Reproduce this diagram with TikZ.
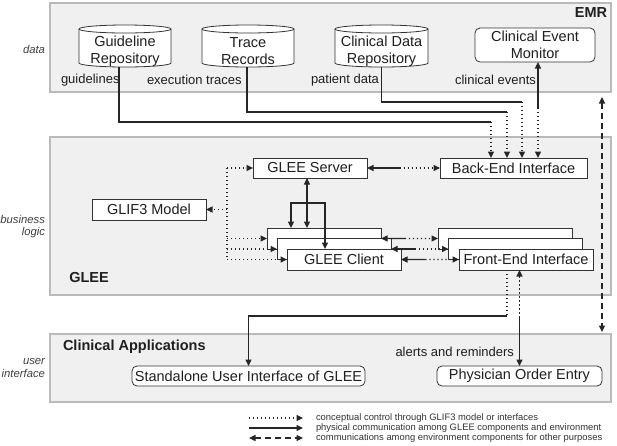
\documentclass[tikz,border=0pt]{standalone}
\usepackage{fontspec}
\setmainfont{Liberation Sans}
\usetikzlibrary{arrows.meta,calc}
\pgfdeclarelayer{bg}\pgfdeclarelayer{mid}\pgfsetlayers{bg,mid,main}
\newcommand\drawcyl[2]{%
  \path[cylline,fill=white] ([yshift=4pt]#1.north west) -- ([yshift=6pt]#1.south west)
    arc[start angle=180,end angle=360,x radius=#2,y radius=4pt]
    -- ([yshift=4pt]#1.north east)
    arc[start angle=0,end angle=180,x radius=#2,y radius=4pt] -- cycle;
  \draw[cylline] ([yshift=4pt]#1.north east) arc[start angle=0,end angle=-180,x radius=#2,y radius=4pt];}
\begin{document}
\begin{tikzpicture}[x=1pt,y=-1pt,
 every node/.style={inner sep=0pt, outer sep=0pt, text=black!88},
 >={Triangle[length=6.5pt,width=6pt]},
 panel/.style={draw=black!27, fill=black!6, line width=1.1pt},
 box/.style={draw=black!80, fill=white, line width=0.8pt, font=\fontsize{14.5}{16.5}\selectfont, align=center},
 rbox/.style={box, rounded corners=5pt},
 cylbox/.style={font=\fontsize{14.5}{16.5}\selectfont, align=center, minimum height=36pt},
 cylline/.style={draw=black!80, line width=0.8pt},
 lbl/.style={font=\fontsize{13}{15}\selectfont, anchor=west},
 side/.style={font=\fontsize{11.3}{12.5}\selectfont\itshape, align=right, anchor=east, text=black!75},
 ttl/.style={font=\fontsize{14.5}{16}\selectfont\bfseries},
 leg/.style={font=\fontsize{9.4}{10}\selectfont, anchor=west, text=black!80},
 conn/.style={line width=1.2pt, draw=black!85},
 dot/.style={conn, dash pattern=on 1.3pt off 2.7pt},
 dsh/.style={conn, dash pattern=on 6pt off 4pt}]
\useasboundingbox (0,0) rectangle (617,445);
% panels
\begin{pgfonlayer}{bg}
\fill[white] (0,0) rectangle (617,445);
\node[panel, minimum width=561pt, minimum height=89pt] (emr) at (330.5,47.5) {};
\node[panel, minimum width=561pt, minimum height=158pt] (glee) at (330.5,216) {};
\node[panel, minimum width=561pt, minimum height=68pt] (ca) at (330.5,368) {};
\end{pgfonlayer}
% side labels and titles
\node[side] (sdata) at (45,49) {data};
\node[side] (sbl) at (45,226.5) {business\\logic};
\node[side] (sui) at (45,368) {user\\interface};
\node[ttl] (temr) at (591,13) {EMR};
\node[ttl] (tglee) at (89,277) {GLEE};
\node[ttl, anchor=west] (tca) at (63,347) {Clinical Applications};
% EMR
\node[cylbox, minimum width=92pt] (gr) at (125,51) {Guideline\\Repository};
\node[cylbox, minimum width=92pt] (tr) at (248,51) {Trace\\Records};
\node[cylbox, minimum width=93pt] (cd) at (381.5,51) {Clinical Data\\Repository};
\begin{pgfonlayer}{mid}
\drawcyl{gr}{46pt}
\drawcyl{tr}{46pt}
\drawcyl{cd}{46.5pt}
\end{pgfonlayer}
\node[rbox, minimum width=120pt, minimum height=34pt] (cem) at (535,45) {Clinical Event\\Monitor};
\node[lbl] (lgl) at (61,80) {guidelines};
\node[lbl] (lex) at (147,80) {execution traces};
\node[lbl] (lpd) at (311,80) {patient data};
\node[lbl] (lce) at (455,80) {clinical events};
% GLEE
\node[box, minimum width=114pt, minimum height=20pt] (srv) at (310,168) {GLEE Server};
\node[box, minimum width=147pt, minimum height=20pt] (be) at (513.5,168) {Back-End Interface};
\node[box, minimum width=114pt, minimum height=21pt] (glif) at (149,209.5) {GLIF3 Model};
\node[box, minimum width=114pt, minimum height=21pt] (c1) at (324,238.5) {};
\node[box, minimum width=114pt, minimum height=21pt] (c2) at (334,249) {};
\node[box, minimum width=114pt, minimum height=21pt] (c3) at (344,259.5) {GLEE Client};
\node[box, minimum width=134pt, minimum height=21pt] (fe1) at (505,238.5) {};
\node[box, minimum width=134pt, minimum height=21pt] (fe2) at (515.5,249) {};
\node[box, minimum width=134pt, minimum height=21pt] (fe3) at (526,259.5) {Front-End Interface};
% Clinical applications
\node[rbox, minimum width=233pt, minimum height=20pt] (sa) at (248.5,376) {Standalone User Interface of GLEE};
\node[rbox, minimum width=165pt, minimum height=20pt] (poe) at (519.5,376) {Physician Order Entry};
\node[lbl, anchor=east] (lar) at (514,352) {alerts and reminders};
% EMR -> back-end
\coordinate (be1) at ([xshift=-22.5pt]be.north);
\coordinate (be2) at ([xshift=-6.5pt]be.north);
\coordinate (be3) at ([xshift=8.5pt]be.north);
\coordinate (be4) at ([xshift=24.5pt]be.north);
\coordinate (k1) at ($(be1)+(0,-36)$);
\coordinate (k2) at ($(be2)+(0,-46)$);
\coordinate (k3) at ($(be3)+(0,-56)$);
\coordinate (k4) at ($(be4)+(0,-50)$);
\draw[conn] ([xshift=-6pt,yshift=2pt]gr.south) |- (k1);
\draw[dot,->] (k1) -- (be1);
\draw[conn] ([xshift=-1pt,yshift=2pt]tr.south) |- (k2);
\draw[dot,->] (k2) -- (be2);
\draw[conn] ([yshift=2pt]cd.south) |- (k3);
\draw[dot,->] (k3) -- (be3);
\draw[conn,->] (k4) -- (k4 |- cem.south);
\draw[dot,->] (k4) -- (be4);
% server <-> back-end
\coordinate (m0) at ($(srv.east)!0.45!(be.west)$);
\draw[conn,<-] (srv.east) -- (m0);
\draw[dot,->] (m0) -- (be.west);
% server <-> client
\coordinate (s1) at ([xshift=-3pt]srv.south);
\draw[conn,<->] (s1) -- (s1 |- c1.north);
\coordinate (l1) at ([xshift=-33pt]c1.north);
\coordinate (l2) at ([xshift=-19pt]c3.north);
\draw[conn,<->] (l1) -- ++(0,-25) -| (l2);
% GLIF3 dotted
\coordinate (dv) at ($(glif.east)+(21,0)$);
\draw[dot] (dv |- srv.west) -- (dv |- c3.west);
\draw[dot,->] (dv |- srv.west) -- (srv.west);
\draw[dot,->] (dv) -- (glif.east);
\foreach \c in {c1,c2,c3} {\draw[dot,->] (dv |- \c.west) -- (\c.west);}
% client <-> front-end
\foreach \a/\b in {c1/fe1,c2/fe2,c3/fe3} {
  \coordinate (mm) at ($(\a.east)!0.42!(\b.west)$);
  \draw[conn,<-] (\a.east) -- (mm);
  \draw[dot,->] (mm) -- (\b.west);}
% front-end -> user interfaces
\coordinate (f1) at ([xshift=-19pt]fe3.south);
\coordinate (f2) at ($(f1)+(0,46)$);
\draw[dot] (f1) -- (f2);
\draw[conn,->] (f2) -| (sa.north);
\coordinate (p1) at (poe.north |- fe3.south);
\coordinate (p2) at ($(p1)+(0,46)$);
\draw[dot,<-] (p1) -- (p2);
\draw[conn,->] (p2) -- (poe.north);
% EMR <-> clinical applications
\coordinate (d1) at ([xshift=-9pt,yshift=-5pt]emr.south east);
\coordinate (d2) at ([xshift=-9pt,yshift=2pt]ca.north east);
\draw[dsh,<->] (d1) -- (d2);
% legend
\node[leg] (lg1) at (316,418) {conceptual control through GLIF3 model or interfaces};
\node[leg] (lg2) at (316,428) {physical communication among GLEE components and environment};
\node[leg] (lg3) at (316,438) {communications among environment components for other purposes};
\draw[dot,->] ([xshift=-67pt]lg1.west) -- ([xshift=-13pt]lg1.west);
\draw[conn,->] ([xshift=-67pt]lg2.west) -- ([xshift=-13pt]lg2.west);
\draw[dsh,<->] ([xshift=-67pt]lg3.west) -- ([xshift=-13pt]lg3.west);
\end{tikzpicture}
\end{document}
